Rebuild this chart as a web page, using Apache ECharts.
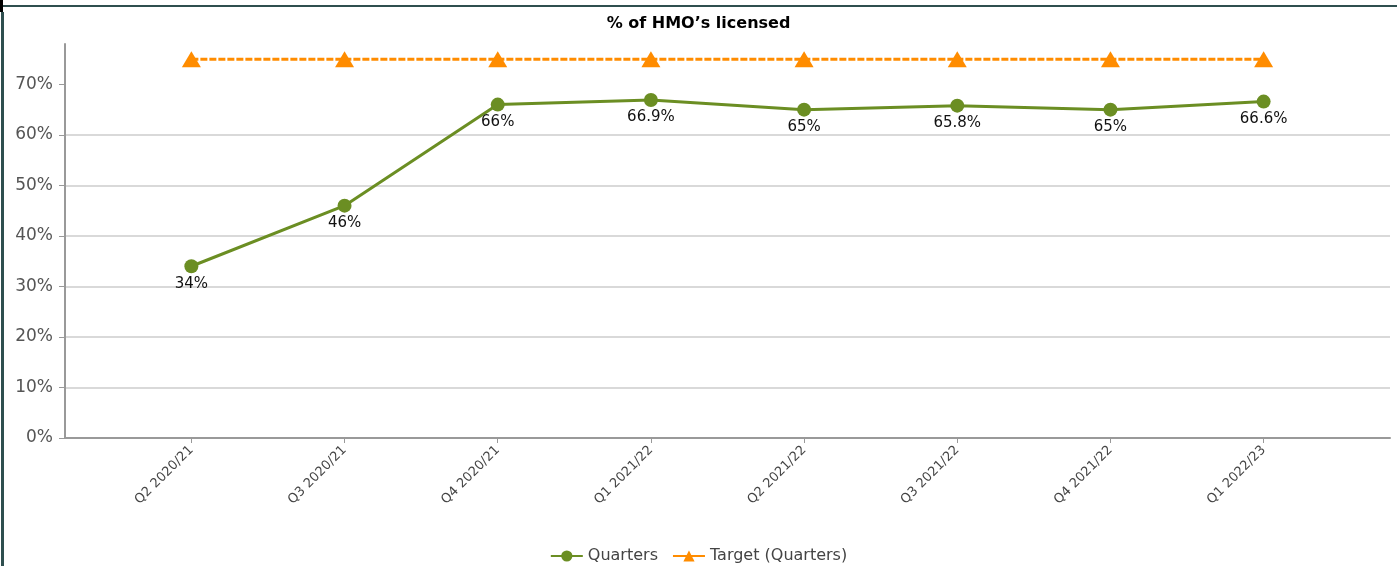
<!DOCTYPE html>
<html>
<head>
<meta charset="utf-8">
<script src="https://cdn.jsdelivr.net/npm/echarts@6/dist/echarts.min.js"></script>
<style>
    html, body { margin: 0; padding: 0; background: #fff; }
    #hmo_chart { width: 1397px; height: 566px; }
</style>
</head>
<body>
<div id="hmo_chart"></div>
<script>
// 数据
var quarters = ['Q2 2020/21', 'Q3 2020/21', 'Q4 2020/21', 'Q1 2021/22', 'Q2 2021/22', 'Q3 2021/22', 'Q4 2021/22', 'Q1 2022/23'];
var quarterValues = [34, 46, 66, 66.9, 65, 65.8, 65, 66.6];
var targetValues = [75, 75, 75, 75, 75, 75, 75, 75];
var yTicks = [0, 10, 20, 30, 40, 50, 60, 70];

var fontName = 'DejaVu Sans';

// 按类别序号组装点
function toPoints(arr) {
    var pts = new Array;
    for(var i = 0; i < arr.length; i++) {
        pts.push([i, arr[i]]);
    }
    return pts;
}
var tickIdx = quarters.map(function(q, i) { return i; });

var dom = document.getElementById("hmo_chart");
var chart = echarts.init(dom, null, { renderer: 'canvas' });
var option = {
    animation: false,
    backgroundColor: '#fff',
    title: {
        text: '% of HMO\u2019s licensed',
        left: 'center',
        top: 11,
        textStyle: { fontFamily: fontName, fontSize: 16, fontWeight: 'bold', color: '#000' }
    },
    legend: {
        top: 543,
        left: 'center',
        itemWidth: 32,
        itemHeight: 14,
        itemGap: 14,
        textStyle: { fontFamily: fontName, fontSize: 16, color: '#444' },
        data: [
            { name: 'Quarters' },
            { name: 'Target (Quarters)', lineStyle: { type: 'solid' } }
        ]
    },
    grid: { left: 65, right: 7, top: 44, bottom: 128, containLabel: false },
    xAxis: {
        type: 'value',
        min: -0.825,
        max: 7.825,
        splitLine: { show: false },
        axisLine: { show: true, onZero: false, lineStyle: { color: '#999', width: 2 } },
        axisTick: { show: true, length: 5, customValues: tickIdx, lineStyle: { color: '#999' } },
        axisLabel: {
            customValues: tickIdx,
            rotate: 45,
            margin: 10,
            fontFamily: fontName,
            fontSize: 13,
            color: '#444',
            formatter: function(v) { return quarters[Math.round(v)]; }
        }
    },
    yAxis: {
        type: 'value',
        min: 0,
        max: 78,
        interval: 10,
        axisLine: { show: true, onZero: false, lineStyle: { color: '#999', width: 2 } },
        axisTick: { show: true, length: 6, customValues: yTicks, lineStyle: { color: '#999' } },
        axisLabel: {
            customValues: yTicks,
            margin: 12,
            fontFamily: fontName,
            fontSize: 17,
            color: '#555',
            formatter: '{value}%'
        },
        splitLine: { show: true, showMaxLine: false, lineStyle: { color: '#ccc', width: 1.5 } }
    },
    series: [{
        name: 'Quarters',
        type: 'line',
        data: toPoints(quarterValues),
        color: '#6b8e23',
        symbol: 'circle',
        symbolSize: 14,
        lineStyle: { width: 3 },
        z: 3,
        label: {
            show: true,
            position: 'bottom',
            distance: 3,
            fontFamily: fontName,
            fontSize: 15,
            color: '#111',
            formatter: function(p) { return p.value[1] + '%'; }
        }
    }, {
        name: 'Target (Quarters)',
        type: 'line',
        data: toPoints(targetValues),
        color: '#ff8c00',
        symbol: 'triangle',
        symbolSize: [19, 16],
        lineStyle: { width: 3, type: [7, 2] },
        z: 2
    }],
    graphic: [
        // 外框
        { type: 'rect', shape: { x: 3, y: 5, width: 1394, height: 2 }, style: { fill: '#2f4f4f' }, silent: true },
        { type: 'rect', shape: { x: 1, y: 12, width: 3, height: 554 }, style: { fill: '#2f4f4f' }, silent: true },
        { type: 'rect', shape: { x: 0, y: 0, width: 3, height: 12 }, style: { fill: '#000' }, silent: true }
    ]
};
chart.setOption(option);
</script>
</body>
</html>
